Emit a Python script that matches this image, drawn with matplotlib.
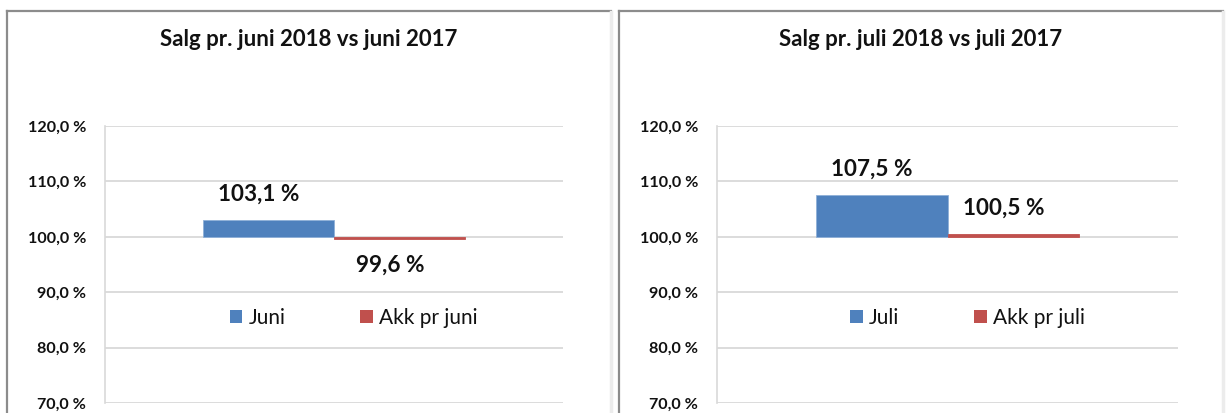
import matplotlib.pyplot as plt
from matplotlib.patches import Patch
from matplotlib.lines import Line2D

# data
titles = ["Salg pr. juni 2018 vs juni 2017", "Salg pr. juli 2018 vs juli 2017"]
series_names = [["Juni", "Akk pr juni"], ["Juli", "Akk pr juli"]]
values = [[103.1, 99.6], [107.5, 100.5]]
yticks = [70, 80, 90, 100, 110, 120]

colors = ["#4F81BD", "#C0504D"]
plt.rcParams["font.family"] = ["Lato", "DejaVu Sans"]

W, H = 1228, 413
fig = plt.figure(figsize=(W / 100, H / 100), dpi=100)


def fx(px):
    return px / W


def fy(py):
    return 1 - py / H


def pct(v):
    return f"{v:.1f} %".replace(".", ",")


panels = [
    {"box": (7, 611), "axes": (105, 563)},
    {"box": (619, 1223), "axes": (717, 1178)},
]

for i, p in enumerate(panels):
    bx0, bx1 = p["box"]
    # panel frame
    fig.add_artist(Line2D([fx(bx0), fx(bx1)], [fy(11), fy(11)], color="#8c8c8c", lw=1.6))
    fig.add_artist(Line2D([fx(bx0), fx(bx0)], [fy(11), 0], color="#8c8c8c", lw=1.6))
    fig.add_artist(Line2D([fx(bx1), fx(bx1)], [fy(12), 0], color="#ececec", lw=2.5))

    ax0, ax1 = p["axes"]
    ax = fig.add_axes([fx(ax0), fy(403), fx(ax1 - ax0), (403 - 126) / H])
    ax.set_ylim(70, 120)
    ax.set_xlim(-0.5, 0.5)
    ax.set_yticks(yticks)
    ax.set_yticklabels([pct(t) for t in yticks], fontweight="bold", fontsize=11.6, color="#111111")
    ax.set_xticks([])
    ax.tick_params(axis="y", length=0, pad=13.5)
    for s in ["top", "right", "bottom"]:
        ax.spines[s].set_visible(False)
    ax.spines["left"].set_color("#d9d9d9")
    ax.spines["left"].set_linewidth(1.2)
    ax.grid(axis="y", color="#d9d9d9", lw=1.3)
    ax.set_axisbelow(True)

    w = 0.286
    xs = [-w / 2, w / 2]
    for j, v in enumerate(values[i]):
        ax.bar(xs[j], v - 100, bottom=100, width=w, color=colors[j],
               edgecolor="#8fb0d8" if j == 0 else colors[j], lw=0.6, zorder=3)
        if v >= 100:
            ax.annotate(pct(v), (xs[j], v), xytext=(-7, 11), textcoords="offset points",
                        ha="center", va="bottom", fontsize=16.2, fontweight="bold", color="#111111")
        else:
            ax.annotate(pct(v), (xs[j], v), xytext=(-7, -11), textcoords="offset points",
                        ha="center", va="top", fontsize=16.2, fontweight="bold", color="#111111")

    handles = [Patch(facecolor=c) for c in colors]
    ax.legend(handles, series_names[i], loc="center", bbox_to_anchor=(0.543, 0.307), ncol=2,
              frameon=False, fontsize=15, handlelength=0.6, handleheight=0.6,
              handletextpad=0.3, columnspacing=3.6, labelcolor="#111111")

    fig.text(fx((bx0 + bx1) / 2), fy(40), titles[i], ha="center", va="center",
             fontsize=16, fontweight="bold", color="#111111")

fig.savefig("out.png", dpi=100)
